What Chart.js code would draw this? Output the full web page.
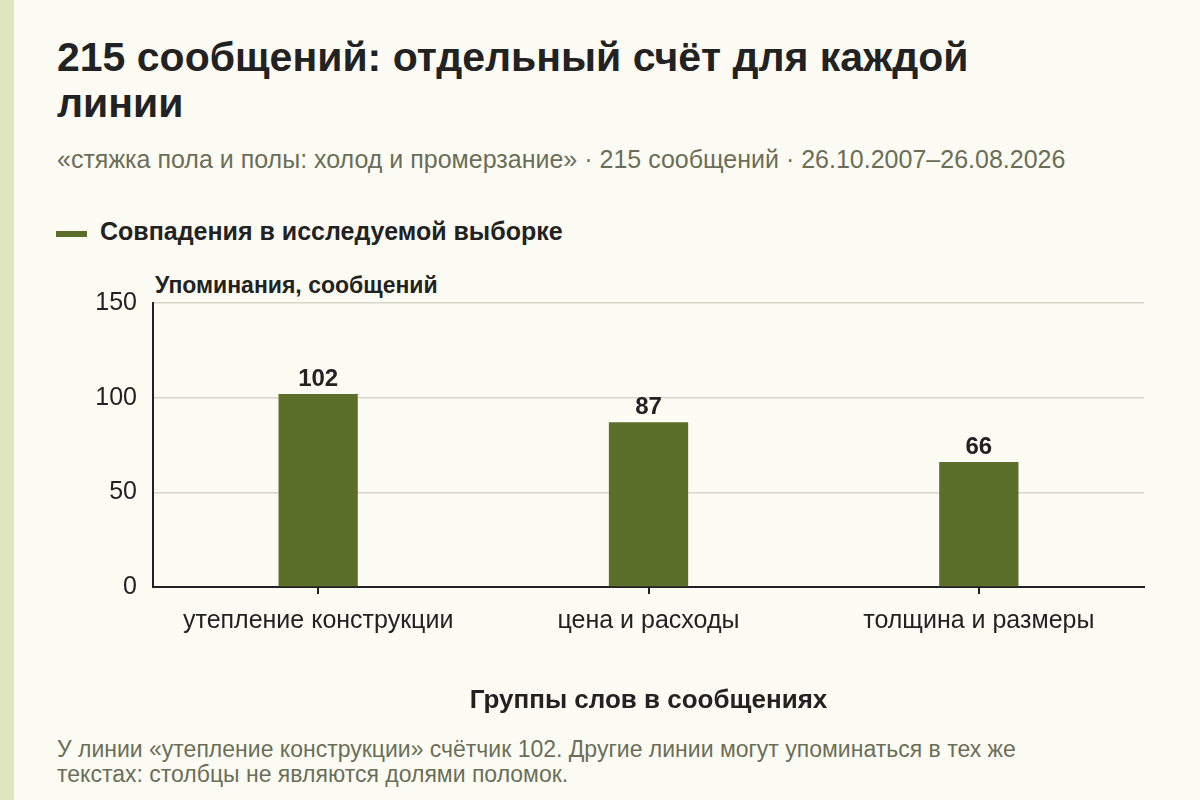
<!DOCTYPE html>
<html lang="ru">
<head>
<meta charset="utf-8">
<script src="https://cdn.jsdelivr.net/npm/chart.js@4/dist/chart.umd.min.js"></script>
<style>
  html, body { margin: 0; padding: 0; }
  body {
    width: 1200px; height: 800px; overflow: hidden; position: relative;
    background: #fdfcf4;
    font-family: "Liberation Sans", Arial, sans-serif;
    color: #222;
  }
  .stripe { position: absolute; left: 0; top: 0; width: 14px; height: 800px; background: #dfe5bf; }
  h1 {
    position: absolute; left: 57px; top: 34px; width: 960px; margin: 0;
    font-size: 41px; line-height: 46px; font-weight: bold; color: #222;
  }
  .sub {
    position: absolute; left: 57px; top: 144px; margin: 0;
    font-size: 25px; line-height: 30px; color: #6b6e57; white-space: nowrap;
  }
  .legend {
    position: absolute; left: 56px; top: 216px; font-size: 25px; line-height: 30px;
    font-weight: bold; color: #222; white-space: nowrap;
  }
  .legend span.sw {
    display: inline-block; width: 31px; height: 6px; background: #5b6e2a;
    vertical-align: middle; margin-right: 13px; position: relative; top: 1px;
  }
  .ytitle {
    position: absolute; left: 155px; top: 271px; font-size: 23px; line-height: 28px;
    font-weight: bold; color: #222; white-space: nowrap;
  }
  .note {
    position: absolute; left: 57px; top: 737px; width: 1000px; margin: 0;
    font-size: 23px; line-height: 25px; color: #6b6e57;
  }
  #wrap { position: absolute; left: 0; top: 272px; width: 1200px; height: 448px; }
</style>
</head>
<body>
<div class="stripe"></div>
<h1>215 сообщений: отдельный счёт для каждой линии</h1>
<p class="sub">«стяжка пола и полы: холод и промерзание» · 215 сообщений · 26.10.2007–26.08.2026</p>
<div class="legend"><span class="sw"></span>Совпадения в исследуемой выборке</div>
<div class="ytitle">Упоминания, сообщений</div>
<div id="wrap"><canvas id="barChart"></canvas></div>
<p class="note">У линии «утепление конструкции» счётчик 102. Другие линии могут упоминаться в тех же текстах: столбцы не являются долями поломок.</p>

<script>
const categories = ['утепление конструкции', 'цена и расходы', 'толщина и размеры'];
const matches = [102, 87, 66];
const yTicks = [0, 50, 100, 150];

// draws the value above each bar
const valueLabels = {
  id: 'valueLabels',
  afterDatasetsDraw(chart) {
    const ctx = chart.ctx;
    const meta = chart.getDatasetMeta(0);
    ctx.save();
    ctx.font = 'bold 24px "Liberation Sans", Arial, sans-serif';
    ctx.fillStyle = '#222';
    ctx.textAlign = 'center';
    ctx.textBaseline = 'alphabetic';
    meta.data.forEach((bar, i) => {
      ctx.fillText(chart.data.datasets[0].data[i], bar.x, bar.y - 8);
    });
    ctx.restore();
  }
};

var ctx = document.getElementById('barChart').getContext('2d');

var myChart = new Chart(ctx, {
  type: 'bar',
  data: {
    labels: categories,
    datasets: [{
      label: 'Совпадения в исследуемой выборке',
      data: matches,
      backgroundColor: '#5b6e2a',
      barPercentage: 0.24,
      categoryPercentage: 1.0
    }]
  },
  options: {
    responsive: true,
    maintainAspectRatio: false,
    animation: false,
    layout: { padding: { top: 14, right: 56, left: 0, bottom: 0 } },
    plugins: {
      legend: { display: false },
      tooltip: { enabled: false }
    },
    scales: {
      x: {
        afterFit(scale) { scale.height = 133; },
        grid: {
          display: true, offset: false, drawOnChartArea: false, drawTicks: true,
          tickLength: 7, color: '#222', lineWidth: 2
        },
        border: { display: true, color: '#222', width: 2 },
        ticks: {
          color: '#222', padding: 12,
          font: { family: '"Liberation Sans", Arial, sans-serif', size: 25 }
        },
        title: {
          display: true, text: 'Группы слов в сообщениях', color: '#222',
          padding: { top: 0, bottom: 4 },
          font: { family: '"Liberation Sans", Arial, sans-serif', size: 26, weight: 'bold' }
        }
      },
      y: {
        min: 0, max: 150,
        afterFit(scale) { scale.width = 153; },
        afterBuildTicks(scale) { scale.ticks = yTicks.map(v => ({ value: v })); },
        grid: { color: '#d8d5cb', lineWidth: 1.5, drawTicks: false },
        border: { display: true, color: '#222', width: 2 },
        ticks: {
          color: '#222', padding: 16,
          font: { family: '"Liberation Sans", Arial, sans-serif', size: 25 }
        }
      }
    }
  },
  plugins: [valueLabels]
});
</script>
</body>
</html>
